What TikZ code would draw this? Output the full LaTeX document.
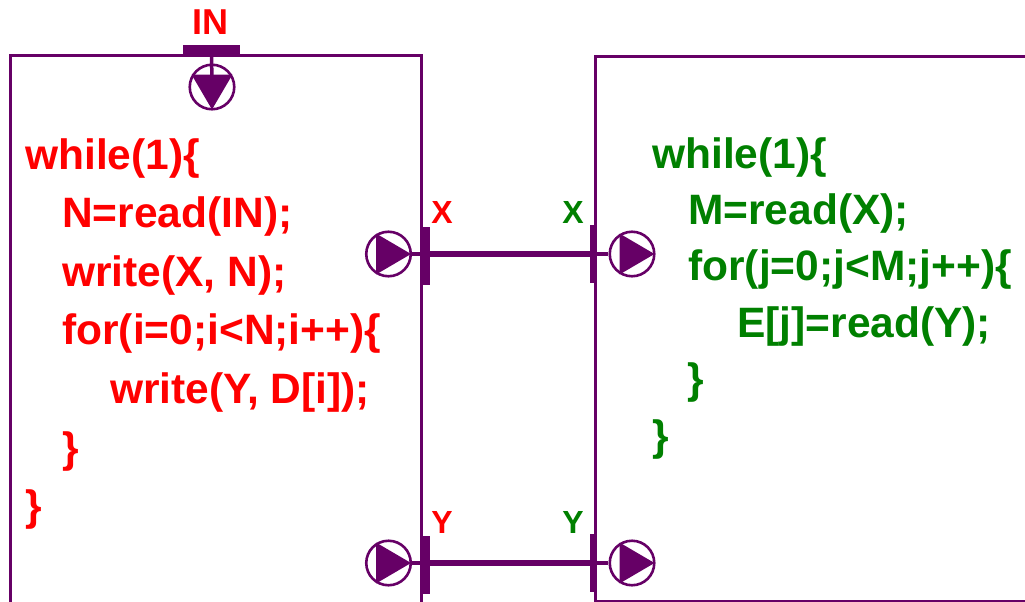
\documentclass[tikz,border=0pt]{standalone}
\usepackage{fontspec}
\setmainfont{Liberation Sans}
\definecolor{pur}{HTML}{660066}
\definecolor{grn}{HTML}{008000}
\tikzset{
  boxline/.style={draw=pur, line width=3pt},
  codeL/.style={anchor=base west, inner sep=0pt, text=red, font=\bfseries\fontsize{42.5}{50}\selectfont},
  codeR/.style={anchor=base west, inner sep=0pt, text=grn, font=\bfseries\fontsize{42.5}{50}\selectfont},
  plabel/.style={inner sep=0pt, font=\bfseries\fontsize{32}{36}\selectfont},
  vbar/.style={rectangle, fill=pur, inner sep=0pt, minimum width=7.5pt, minimum height=58pt},
  hbar/.style={rectangle, fill=pur, inner sep=0pt, minimum width=57pt, minimum height=9pt},
  chan/.style={draw=pur, line width=6pt},
  stem/.style={draw=pur, line width=3.5pt},
  port/.style={circle, draw=pur, line width=2.6pt, minimum size=44.5pt, inner sep=0pt},
  tri/.style={fill=pur}
}
\begin{document}
\begin{tikzpicture}[x=1pt,y=-1pt]
\useasboundingbox (0,0) rectangle (1025,602);
% process boxes
\draw[boxline] (10,604) -- (10,56) -- (421,56) -- (421,604);
\draw[boxline] (1030,57) -- (595,57) -- (595,601.5) -- (1030,601.5);

% IN port
\node[font=\bfseries\fontsize{36}{40}\selectfont, text=red, inner sep=0pt] (lIN) at (210,22) {IN};
\node[hbar] (bIN) at (211.5,49.5) {};
\node[port] (pIN) at (212,87) {};
\draw[stem] (bIN.center) -- (pIN.center);
\fill[tri] ([shift={(0,22.5)}]pIN.center) -- ([shift={(20.5,-12.5)}]pIN.center) -- ([shift={(-20.5,-12.5)}]pIN.center) -- cycle;

% X channel
\node[port] (pXL) at (388.5,254) {};
\node[vbar] (bXL) at (426.5,256) {};
\node[vbar] (bXR) at (593.5,253.5) {};
\node[port] (pXR) at (632,254) {};
\draw[stem] (pXL) -- (pXL -| bXL.west);
\draw[chan] (bXL.center |- pXL) -- (bXR.center |- pXL);
\draw[stem] (pXR -| bXR.east) -- (pXR);
\node[plabel, text=red] (lXL) at (442,212) {X};
\node[plabel, text=grn] (lXR) at (573,212) {X};

% Y channel
\node[port] (pYL) at (388.5,563) {};
\node[vbar] (bYL) at (426.5,565) {};
\node[vbar] (bYR) at (593.5,562.5) {};
\node[port] (pYR) at (632,563) {};
\draw[stem] (pYL) -- (pYL -| bYL.west);
\draw[chan] (bYL.center |- pYL) -- (bYR.center |- pYL);
\draw[stem] (pYR -| bYR.east) -- (pYR);
\node[plabel, text=red] (lYL) at (442,522) {Y};
\node[plabel, text=grn] (lYR) at (573,522) {Y};

% right-pointing triangles in the ports
\foreach \p in {pXL,pXR,pYL,pYR}{
  \fill[tri] ([shift={(22.5,0)}]\p.center) -- ([shift={(-12.5,20.5)}]\p.center) -- ([shift={(-12.5,-20.5)}]\p.center) -- cycle;
}

% left code
\node[codeL] (l1) at (25,169) {while(1)\{};
\node[codeL] (l2) at (62,227.6) {N=read(IN);};
\node[codeL] (l3) at (62,286.2) {write(X, N);};
\node[codeL] (l4) at (62,344.8) {for(i=0;i<N;i++)\{};
\node[codeL] (l5) at (110,403.4) {write(Y, D[i]);};
\node[codeL] (l6) at (62,462) {\}};
\node[codeL] (l7) at (25,520.6) {\}};

% right code
\node[codeR] (r1) at (652,168) {while(1)\{};
\node[codeR] (r2) at (688,224.4) {M=read(X);};
\node[codeR] (r3) at (688,280.8) {for(j=0;j<M;j++)\{};
\node[codeR] (r4) at (737,337.2) {E[j]=read(Y);};
\node[codeR] (r5) at (687,393.6) {\}};
\node[codeR] (r6) at (652,450) {\}};
\end{tikzpicture}
\end{document}
